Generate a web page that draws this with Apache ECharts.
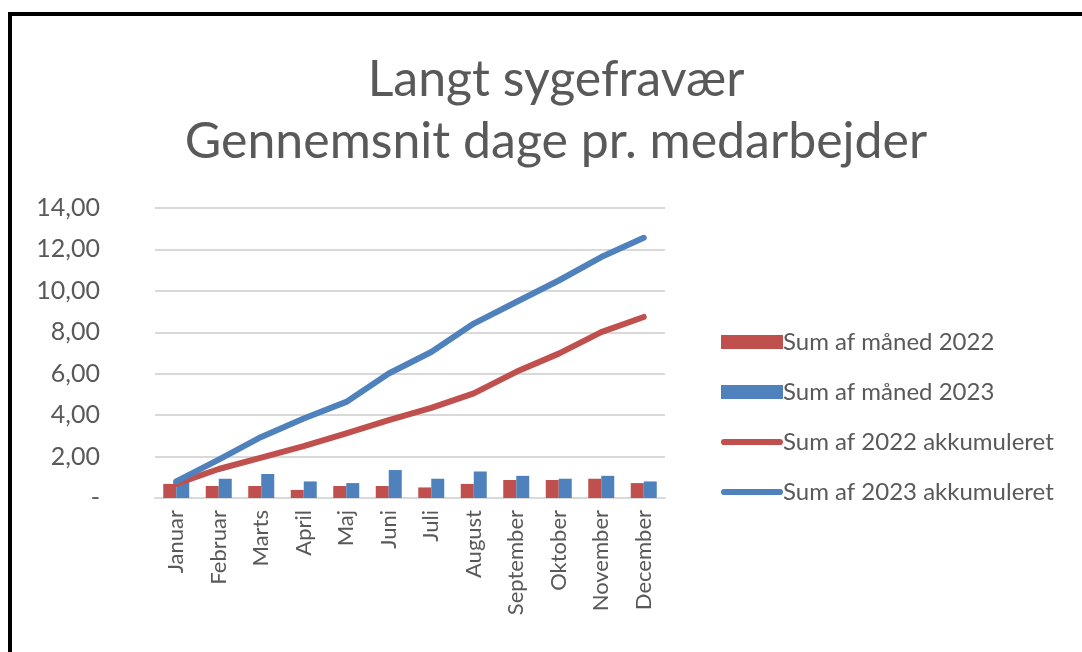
<!DOCTYPE html>
<html lang="da">
<head>
<meta charset="UTF-8">
<title>Langt sygefravær</title>
<script src="https://cdn.jsdelivr.net/npm/echarts@6/dist/echarts.min.js"></script>
<style>
    html, body { margin: 0; padding: 0; background: #fff; }
    #frame { position: absolute; left: 8px; top: 12px; width: 1074px; height: 640px;
             border-left: 4px solid #000; border-top: 4px solid #000; }
    #chart { position: absolute; left: 0; top: 0; width: 1082px; height: 652px; }
</style>
</head>
<body>
<div id="frame"></div>
<div id="chart"></div>
<script>
    const maaneder = ['Januar', 'Februar', 'Marts', 'April', 'Maj', 'Juni', 'Juli',
        'August', 'September', 'Oktober', 'November', 'December'];
    const maaned2022 = [0.68, 0.58, 0.58, 0.39, 0.58, 0.58, 0.51, 0.68, 0.87, 0.87, 0.93, 0.72];
    const maaned2023 = [0.80, 0.93, 1.16, 0.80, 0.72, 1.35, 0.93, 1.28, 1.07, 0.93, 1.07, 0.80];
    const akk2022 = [0.68, 1.40, 1.95, 2.50, 3.12, 3.76, 4.35, 5.05, 6.09, 6.97, 8.01, 8.74];
    const akk2023 = [0.80, 1.85, 2.95, 3.84, 4.64, 6.01, 7.05, 8.42, 9.46, 10.50, 11.63, 12.56];

    const roed = '#C0504D', blaa = '#4F81BD';
    const font = 'Lato';
    // linje-ikon til legend (afrundet streg)
    const stregIkon = 'path://M3,0 L57,0 A3,3 0 0 1 57,6 L3,6 A3,3 0 0 1 3,0 Z';

    var myChart = echarts.init(document.getElementById('chart'));
    var option = {
        animation: false,
        title: {
            text: 'Langt sygefravær\nGennemsnit dage pr. medarbejder',
            left: 551, textAlign: 'center', top: 44,
            textStyle: { fontFamily: font, fontSize: 50, fontWeight: 'normal', color: '#595959', lineHeight: 62 }
        },
        legend: {
            orient: 'vertical', left: 716, top: 325, itemGap: 26, itemWidth: 62, itemHeight: 14,
            textStyle: { fontFamily: font, fontSize: 24, color: '#595959', padding: [0, 0, 0, -5] },
            data: [
                { name: 'Sum af måned 2022', icon: 'rect' },
                { name: 'Sum af måned 2023', icon: 'rect' },
                { name: 'Sum af 2022 akkumuleret', icon: stregIkon },
                { name: 'Sum af 2023 akkumuleret', icon: stregIkon }
            ]
        },
        grid: { left: 155, right: 417, top: 208, bottom: 154 },
        xAxis: {
            type: 'category', data: maaneder,
            axisLine: { lineStyle: { color: '#d9d9d9', width: 2 } },
            axisTick: { show: false },
            axisLabel: { rotate: 90, fontFamily: font, fontSize: 22, color: '#595959', margin: 12 }
        },
        yAxis: {
            type: 'value', min: 0, max: 14, interval: 2,
            axisLine: { show: false }, axisTick: { show: false },
            splitLine: { lineStyle: { color: '#d9d9d9', width: 2 } },
            axisLabel: {
                fontFamily: font, fontSize: 25, color: '#595959', margin: 55,
                formatter: function (v) { return v === 0 ? '-' : v.toFixed(2).replace('.', ','); }
            }
        },
        series: [
            { name: 'Sum af måned 2022', type: 'bar', data: maaned2022, barWidth: 13, barGap: '0%',
              itemStyle: { color: roed } },
            { name: 'Sum af måned 2023', type: 'bar', data: maaned2023, barWidth: 13,
              itemStyle: { color: blaa } },
            { name: 'Sum af 2022 akkumuleret', type: 'line', data: akk2022, symbol: 'none',
              lineStyle: { color: roed, width: 6, cap: 'round', join: 'round' }, itemStyle: { color: roed } },
            { name: 'Sum af 2023 akkumuleret', type: 'line', data: akk2023, symbol: 'none',
              lineStyle: { color: blaa, width: 6, cap: 'round', join: 'round' }, itemStyle: { color: blaa } }
        ]
    };
    myChart.setOption(option);
</script>
</body>
</html>
